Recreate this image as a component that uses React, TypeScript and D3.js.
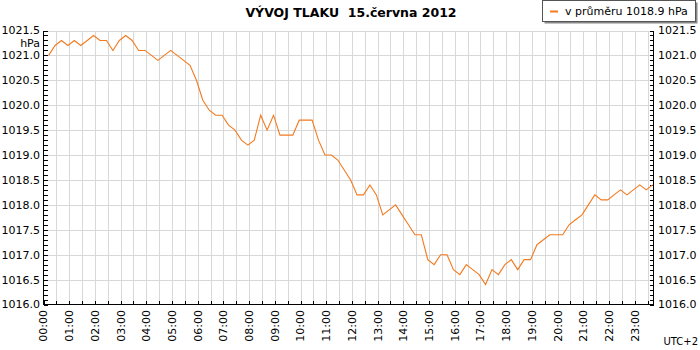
import React from "react";
import * as d3 from "d3";

// Pressure readings every 15 minutes, starting 00:12 (hPa)
const startMinute = 12;
const stepMinutes = 15;
const pressure = [
  1021.0, 1021.2, 1021.3, 1021.2, 1021.3, 1021.2, 1021.3, 1021.4, 1021.3, 1021.3,
  1021.1, 1021.3, 1021.4, 1021.3, 1021.1, 1021.1, 1021.0, 1020.9, 1021.0, 1021.1,
  1021.0, 1020.9, 1020.8, 1020.5, 1020.1, 1019.9, 1019.8, 1019.8, 1019.6, 1019.5,
  1019.3, 1019.2, 1019.3, 1019.8, 1019.5, 1019.8, 1019.4, 1019.4, 1019.4, 1019.7,
  1019.7, 1019.7, 1019.3, 1019.0, 1019.0, 1018.9, 1018.7, 1018.5, 1018.2, 1018.2,
  1018.4, 1018.2, 1017.8, 1017.9, 1018.0, 1017.8, 1017.6, 1017.4, 1017.4, 1016.9,
  1016.8, 1017.0, 1017.0, 1016.7, 1016.6, 1016.8, 1016.7, 1016.6, 1016.4, 1016.7,
  1016.6, 1016.8, 1016.9, 1016.7, 1016.9, 1016.9, 1017.2, 1017.3, 1017.4, 1017.4,
  1017.4, 1017.6, 1017.7, 1017.8, 1018.0, 1018.2, 1018.1, 1018.1, 1018.2, 1018.3,
  1018.2, 1018.3, 1018.4, 1018.3, 1018.4,
];

const hourLabels = [
  "00:00", "01:00", "02:00", "03:00", "04:00", "05:00", "06:00", "07:00",
  "08:00", "09:00", "10:00", "11:00", "12:00", "13:00", "14:00", "15:00",
  "16:00", "17:00", "18:00", "19:00", "20:00", "21:00", "22:00", "23:00",
];
const yTickLabels = ["1016.0", "1016.5", "1017.0", "1017.5", "1018.0", "1018.5", "1019.0", "1019.5", "1020.0", "1020.5", "1021.0", "1021.5"];

const title = "VÝVOJ TLAKU  15.června 2012";
const legendText = "v průměru 1018.9 hPa";
const unitLabel = "hPa";
const tzLabel = "UTC+2";

const FONT = "DejaVu Sans, Verdana, sans-serif";
const ORANGE = "#f47a1e";
const GRID = "#d8d8d8";

export default function App() {
  const left = 43.5;
  const right = 653.5;
  const top = 30.5;
  const bottom = 304.5;
  const endMinute = 1424;

  const x = d3.scaleLinear().domain([0, endMinute]).range([left, right]);
  const y = d3.scaleLinear().domain([1016, 1021.5]).range([bottom, top]);

  const pts = pressure.map((v, i) => [startMinute + i * stepMinutes, v] as [number, number]);
  const line = d3.line<[number, number]>().x((d) => x(d[0])).y((d) => y(d[1]));

  const halfHours = d3.range(0, endMinute, 30);
  const majorY = yTickLabels.map((s) => +s);
  const minorY = d3.range(0, 56).map((i) => 1016 + i * 0.1);

  return (
    <svg width={700} height={350} style={{ display: "block", position: "absolute", left: 0, top: 0, background: "#fff" }} fontFamily={FONT}>
      <rect x={0} y={0} width={700} height={350} fill="#fff" />
      {/* grid */}
      <g stroke={GRID} strokeWidth={1} shapeRendering="crispEdges">
        {halfHours.filter((m) => m > 0).map((m) => (
          <line key={"vx" + m} x1={Math.round(x(m)) + 0.5} x2={Math.round(x(m)) + 0.5} y1={top} y2={bottom} />
        ))}
        {majorY.filter((v) => v > 1016).map((v) => (
          <line key={"hy" + v} x1={left} x2={right} y1={Math.round(y(v)) + 0.5} y2={Math.round(y(v)) + 0.5} />
        ))}
      </g>
      {/* axes */}
      <g stroke="#000" strokeWidth={1} shapeRendering="crispEdges">
        <line x1={left} x2={left} y1={top} y2={bottom} />
        <line x1={right} x2={right} y1={top} y2={bottom} />
        <line x1={left} x2={right} y1={bottom} y2={bottom} />
        {minorY.map((v, i) => (
          <g key={"t" + i}>
            <line x1={left} x2={left + 4} y1={Math.round(y(v)) + 0.5} y2={Math.round(y(v)) + 0.5} />
            <line x1={right - 4} x2={right} y1={Math.round(y(v)) + 0.5} y2={Math.round(y(v)) + 0.5} />
          </g>
        ))}
        {halfHours.map((m) => (
          <line key={"bx" + m} x1={Math.round(x(m)) + 0.5} x2={Math.round(x(m)) + 0.5} y1={bottom} y2={bottom - 4} />
        ))}
      </g>
      {/* y labels */}
      <g fontSize={11} fill="#000">
        {yTickLabels.map((s) => (
          <text key={"l" + s} x={40} y={y(+s)} dy="0.36em" textAnchor="end">{s}</text>
        ))}
        {yTickLabels.map((s) => (
          <text key={"r" + s} x={658} y={y(+s)} dy="0.36em" textAnchor="start">{s}</text>
        ))}
        <text x={40} y={y(1021.25)} dy="0.36em" textAnchor="end">{unitLabel}</text>
        {hourLabels.map((s, i) => (
          <text key={"h" + s} transform={`translate(${x(i * 60)},310) rotate(-90)`} dy="0.36em" textAnchor="end">{s}</text>
        ))}
        <text x={698} y={345} fontSize={10} textAnchor="end">{tzLabel}</text>
      </g>
      {/* data */}
      <path d={line(pts) || ""} fill="none" stroke={ORANGE} strokeWidth={1.1} />
      {/* title */}
      <text x={351} y={17} textAnchor="middle" fontSize={12.5} fontWeight="bold" style={{ whiteSpace: "pre" }}>{title}</text>
      {/* legend */}
      <rect x={544.5} y={2.5} width={153} height={21} fill="#888" />
      <rect x={542.5} y={0.5} width={153} height={21} fill="#fff" stroke="#555" shapeRendering="crispEdges" />
      <line x1={550} x2={558} y1={11.5} y2={11.5} stroke={ORANGE} strokeWidth={2} />
      <text x={565} y={15} fontSize={11}>{legendText}</text>
    </svg>
  );
}
